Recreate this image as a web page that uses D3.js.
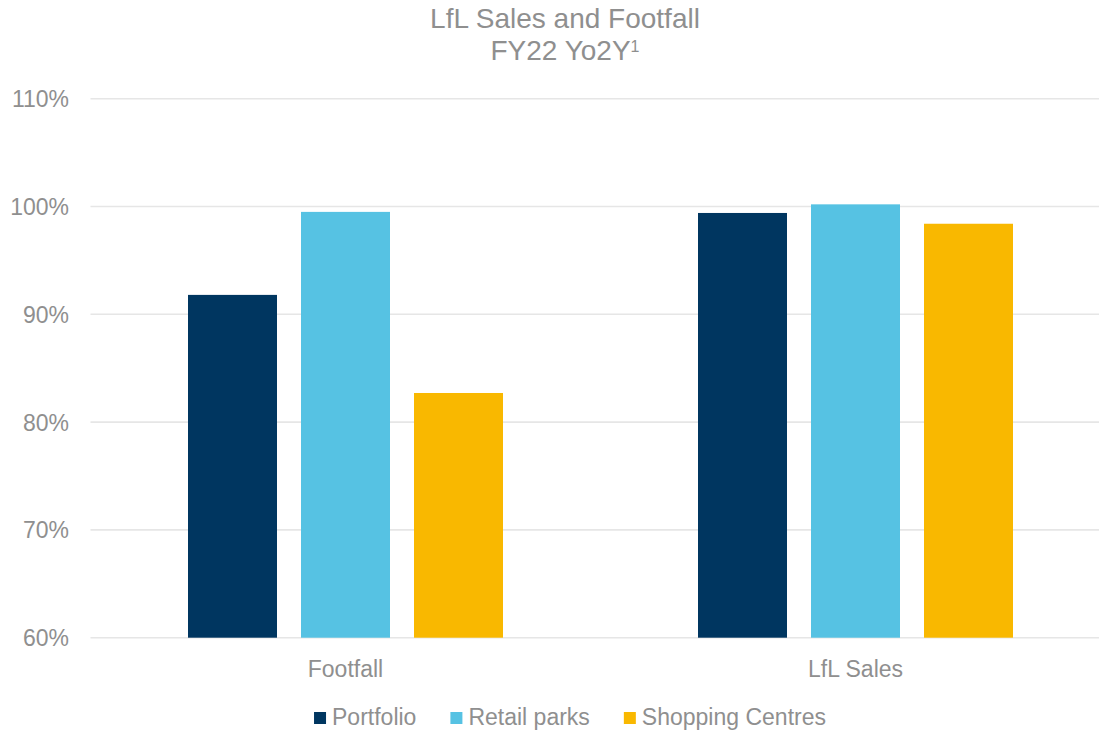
<!DOCTYPE html>
<html>
<head>
<meta charset="utf-8">
<script src="https://cdn.jsdelivr.net/npm/d3@7"></script>
<style>
  html, body { margin: 0; padding: 0; background: #ffffff; }
  svg { display: block; }
  text { font-family: "Liberation Sans", Arial, sans-serif; fill: #8f8f8f; }
</style>
</head>
<body>
<svg id="chart" width="1099" height="731"></svg>
<script>
// Chart data
const categories = ["Footfall", "LfL Sales"];
const seriesNames = ["Portfolio", "Retail parks", "Shopping Centres"];
const seriesColors = ["#003660", "#56C2E3", "#F9B800"];
const portfolio = [91.8, 99.4];
const retailParks = [99.5, 100.2];
const shoppingCentres = [82.7, 98.4];
const yTicks = [60, 70, 80, 90, 100, 110];

const seriesValues = [portfolio, retailParks, shoppingCentres];

const svg = d3.select("#chart");
const W = 1099, H = 731;

// Plot area
const plot = { left: 90.5, right: 1110.5, top: 98.7, bottom: 637.7 };

const y = d3.scaleLinear().domain([60, 110]).range([plot.bottom, plot.top]);
const x0 = d3.scaleBand().domain(categories).range([plot.left, plot.right]).paddingInner(0).paddingOuter(0);
// Bars occupy the middle of each category band
const groupOuter = 97.5;
const x1 = d3.scaleBand().domain(seriesNames)
  .range([groupOuter, x0.bandwidth() - groupOuter])
  .paddingInner(24 / 113).paddingOuter(0);

// Gridlines
svg.append("g").selectAll("line").data(yTicks).join("line")
  .attr("x1", plot.left).attr("x2", Math.min(plot.right, W))
  .attr("y1", d => y(d)).attr("y2", d => y(d))
  .attr("stroke", "#e6e6e6").attr("stroke-width", 1.6);

// Y axis labels
const yAxis = d3.axisLeft(y).tickValues(yTicks).tickSize(0).tickPadding(0)
  .tickFormat(d => d + "%");
const gy = svg.append("g").attr("transform", `translate(69,0)`).call(yAxis);
gy.select(".domain").remove();
gy.selectAll("text").attr("font-size", 23).attr("fill", "#8f8f8f")
  .attr("font-family", "Liberation Sans, Arial, sans-serif").attr("dy", "0.35em");

// Bars
const rows = [];
categories.forEach((c, ci) => {
  seriesNames.forEach((s, si) => rows.push({ cat: c, series: s, value: seriesValues[si][ci], color: seriesColors[si] }));
});
svg.append("g").selectAll("rect").data(rows).join("rect")
  .attr("x", d => x0(d.cat) + x1(d.series))
  .attr("width", x1.bandwidth())
  .attr("y", d => y(d.value))
  .attr("height", d => y(60) - y(d.value))
  .attr("fill", d => d.color);

// X axis labels
const xAxis = d3.axisBottom(x0).tickSize(0).tickPadding(0);
const gx = svg.append("g").attr("transform", `translate(0,${plot.bottom})`).call(xAxis);
gx.select(".domain").remove();
gx.selectAll("text").attr("font-size", 23).attr("fill", "#8f8f8f")
  .attr("font-family", "Liberation Sans, Arial, sans-serif")
  .attr("dy", null).attr("y", 39);

// Title
const title = svg.append("text").attr("text-anchor", "middle").attr("font-size", 28);
title.append("tspan").attr("x", 565).attr("y", 27.5).text("LfL Sales and Footfall");
const line2 = svg.append("text").attr("text-anchor", "middle").attr("font-size", 28).attr("x", 565).attr("y", 60);
line2.append("tspan").text("FY22 Yo2Y");
line2.append("tspan").attr("font-size", 16).attr("dy", -8).text("1");

// Legend
const legend = svg.append("g");
const items = legend.selectAll("g").data(seriesNames).join("g");
items.append("rect").attr("width", 12).attr("height", 12).attr("y", 712)
  .attr("fill", (d, i) => seriesColors[i]);
items.append("text").attr("x", 18).attr("y", 725).attr("font-size", 23).text(d => d);
let cursor = 0;
const offsets = [];
items.each(function () {
  const w = this.querySelector("text").getComputedTextLength();
  offsets.push(cursor);
  cursor += 18 + w + 34;
});
const totalW = cursor - 34;
const startX = 570 - totalW / 2;
items.attr("transform", (d, i) => `translate(${startX + offsets[i]},0)`);
</script>
</body>
</html>
